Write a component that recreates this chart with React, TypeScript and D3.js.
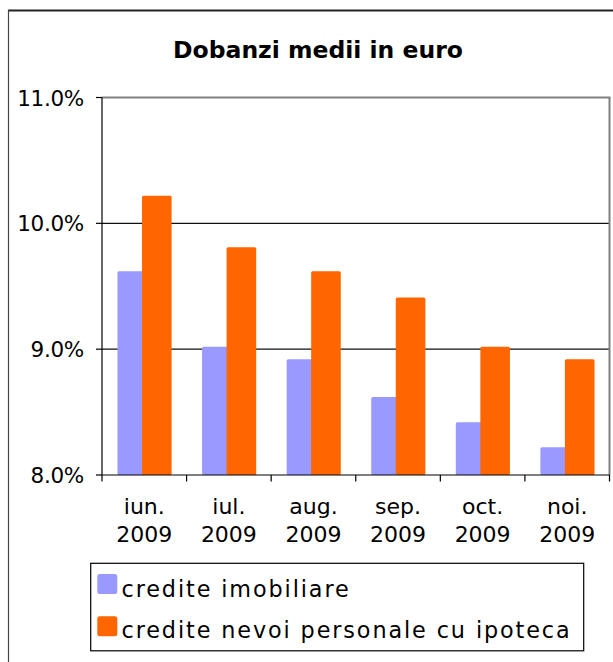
import React from "react";
import * as d3 from "d3";

const months = ["iun.", "iul.", "aug.", "sep.", "oct.", "noi."];
const years = ["2009", "2009", "2009", "2009", "2009", "2009"];
const seriesNames = ["credite imobiliare", "credite nevoi personale cu ipoteca"];
const imobiliare = [9.62, 9.02, 8.92, 8.62, 8.42, 8.22];
const nevoiPersonale = [10.22, 9.81, 9.62, 9.41, 9.02, 8.92];
const yTicks = [8, 9, 10, 11];
const title = "Dobanzi medii in euro";

const W = 613;
const H = 662;
const colors = ["#9999FF", "#FF6600"];
const FONT = "'DejaVu Sans', Verdana, sans-serif";

export default function App() {
  const left = 102;
  const right = 609.5;
  const top = 97.5;
  const bottom = 475;

  const x = d3.scaleBand<string>().domain(months).range([left, right]).padding(0);
  const y = d3.scaleLinear().domain([8, 11]).range([bottom, top]);
  const bw = x.bandwidth();
  const offset = bw * 0.183;
  const step = bw * 0.29;
  const barW = bw * 0.35;

  const series = [imobiliare, nevoiPersonale];
  const boundaries = months.map((m) => x(m) as number).concat([right]);

  return (
    <svg
      width={W}
      height={H}
      style={{ position: "absolute", left: 0, top: 0, display: "block", background: "#fff" }}
      fontFamily={FONT}
    >
      <rect x={0} y={0} width={W} height={H} fill="#fff" />
      {/* outer frame */}
      <line x1={8} y1={10.5} x2={W} y2={10.5} stroke="#222" strokeWidth={2} />
      <line x1={8.5} y1={10} x2={8.5} y2={H} stroke="#444" strokeWidth={1.2} />

      {/* title */}
      <text x={318} y={58.3} textAnchor="middle" fontSize={23.5} fontWeight="bold" fill="#000">
        {title}
      </text>

      {/* gridlines */}
      {yTicks.slice(1, -1).map((t) => (
        <line key={t} x1={left} x2={right} y1={y(t)} y2={y(t)} stroke="#111" strokeWidth={1.2} />
      ))}

      {/* bars */}
      {months.map((m, i) => {
        const x0 = x(m) as number;
        return (
          <g key={m}>
            {series.map((s, j) => (
              <rect
                key={j}
                x={x0 + offset + j * step}
                y={y(s[i])}
                width={barW}
                height={bottom - y(s[i])}
                rx={1.5}
                fill={colors[j]}
              />
            ))}
          </g>
        );
      })}

      {/* plot border: top and right gray */}
      <line x1={left} x2={right + 1} y1={y(11)} y2={y(11)} stroke="#808080" strokeWidth={2} />
      <line x1={right} x2={right} y1={y(11)} y2={bottom} stroke="#808080" strokeWidth={2} />

      {/* axes */}
      <line x1={left} x2={left} y1={y(11)} y2={bottom} stroke="#000" strokeWidth={1.2} />
      <line x1={left} x2={right} y1={bottom} y2={bottom} stroke="#000" strokeWidth={1.2} />

      {/* y ticks & labels */}
      {yTicks.map((t) => (
        <g key={t}>
          <line x1={96} x2={left} y1={y(t)} y2={y(t)} stroke="#000" strokeWidth={1.2} />
          <text
            x={84}
            y={y(t) + 8}
            textAnchor="end"
            fontSize={21.5}
            letterSpacing={-0.3}
            fill="#000"
          >
            {d3.format(".1f")(t) + "%"}
          </text>
        </g>
      ))}

      {/* x ticks */}
      {boundaries.map((b, i) => (
        <line key={i} x1={b} x2={b} y1={bottom} y2={bottom + 6.5} stroke="#000" strokeWidth={1.2} />
      ))}

      {/* x labels */}
      {months.map((m, i) => {
        const cx = (x(m) as number) + bw / 2;
        return (
          <g key={m}>
            <text x={cx} y={514.3} textAnchor="middle" fontSize={22} fill="#000">
              {m}
            </text>
            <text x={cx} y={541.7} textAnchor="middle" fontSize={22} fill="#000">
              {years[i]}
            </text>
          </g>
        );
      })}

      {/* legend */}
      <rect x={90.7} y={563.3} width={493} height={87.5} fill="#fff" stroke="#000" strokeWidth={1.2} />
      {seriesNames.map((name, j) => (
        <g key={name}>
          <rect x={97.3} y={574 + j * 42.3} width={20} height={20} rx={2.5} fill={colors[j]} />
          <text x={121.5} y={596.7 + j * 41.7} fontSize={22.3} letterSpacing={1.9} fill="#000">
            {name}
          </text>
        </g>
      ))}
    </svg>
  );
}
